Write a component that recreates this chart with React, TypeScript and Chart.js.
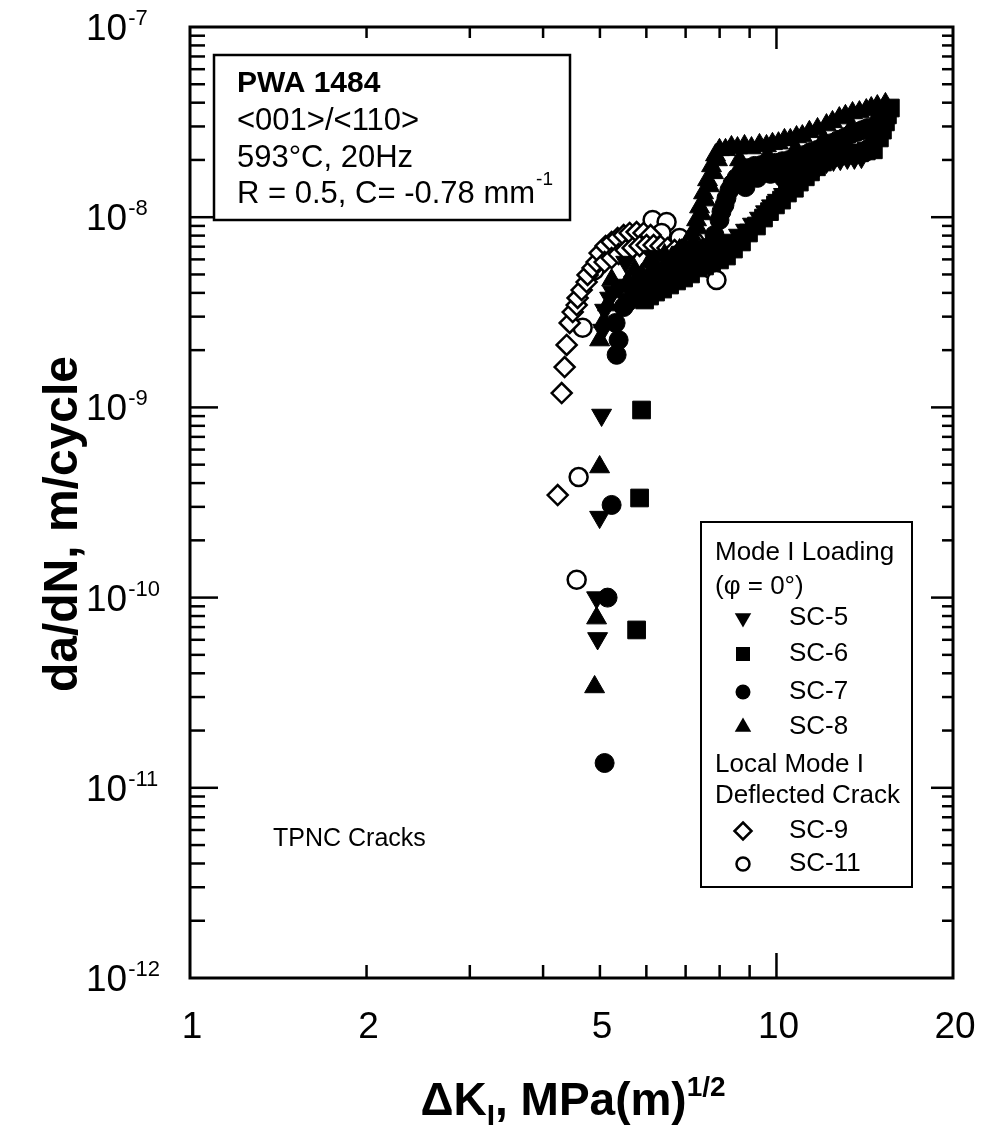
import React, { useEffect, useRef } from 'react';
import { Chart, registerables } from 'chart.js';

Chart.register(...registerables);

const FONT = '"Liberation Sans", Arial, Helvetica, sans-serif';

// ---- data (ΔK in MPa·m^1/2, da/dN in m/cycle) ----
const sc5X = [4.955, 4.935, 4.994, 5.033, 5.053, 5.093, 5.194, 5.402, 5.707, 6.029, 6.370, 6.730, 7.109, 7.510, 7.933, 8.380, 8.856, 9.355, 9.806, 10.28, 10.77, 11.29, 11.84, 12.51, 13.21, 13.96, 5.532, 6.173, 6.890,
  7.307, 7.720, 8.154, 8.616, 9.101, 9.579, 10.04, 10.52, 11.03, 11.56, 12.17, 12.85, 13.58, 5.255, 5.553, 5.866, 6.197, 6.546, 6.917];
const sc5Y = [6.1e-11, 1.0e-10, 2.65e-10, 9.12e-10, 2.55e-9, 3.25e-9, 3.76e-9, 4.24e-9, 4.56e-9, 4.97e-9, 5.41e-9, 5.81e-9, 6.10e-9, 6.56e-9, 7.06e-9, 7.59e-9, 8.56e-9, 9.90e-9, 1.15e-8, 1.32e-8, 1.53e-8, 1.73e-8, 1.88e-8, 2.00e-8, 2.05e-8, 2.07e-8, 5.81e-9, 6.25e-9, 6.56e-9,
  6.33e-9, 6.89e-9, 7.32e-9, 8.06e-9, 9.21e-9, 1.07e-8, 1.23e-8, 1.42e-8, 1.63e-8, 1.81e-8, 1.95e-8, 2.02e-8, 2.05e-8, 4.04e-9, 4.40e-9, 4.73e-9, 5.15e-9, 5.61e-9, 5.96e-9];

const sc6X = [5.775, 5.843, 5.888, 5.958, 6.221, 6.573, 6.944, 7.336, 7.750, 8.218, 8.717, 9.245, 9.730, 10.20, 10.73, 11.20, 11.70, 12.26, 13.06, 13.85, 14.63, 14.98, 15.34, 15.64,
  6.076, 6.395, 6.755, 7.137, 7.540, 7.996, 8.447, 8.960, 9.504, 9.961, 10.44, 10.94, 11.43, 11.98, 12.66, 13.42, 14.23, 15.16, 15.46];
const sc6Y = [6.76e-11, 3.34e-10, 9.69e-10, 3.67e-9, 4.04e-9, 4.40e-9, 4.79e-9, 5.41e-9, 5.81e-9, 6.25e-9, 7.41e-9, 8.99e-9, 1.07e-8, 1.23e-8, 1.42e-8, 1.63e-8, 1.84e-8, 2.05e-8, 2.12e-8, 2.18e-8, 2.26e-8, 2.61e-8, 3.17e-8, 3.75e-8,
  3.85e-9, 4.19e-9, 4.62e-9, 5.03e-9, 5.54e-9, 5.96e-9, 6.80e-9, 8.26e-9, 9.90e-9, 1.16e-8, 1.34e-8, 1.53e-8, 1.73e-8, 1.95e-8, 2.10e-8, 2.15e-8, 2.23e-8, 2.87e-8, 3.45e-8];

const sc7X = [5.093, 5.153, 5.235, 5.339, 5.381, 5.318, 5.489, 5.752, 6.076, 6.420, 6.782, 7.165, 7.569, 7.841, 7.996, 8.154, 8.315, 8.549, 8.925, 9.428, 9.961, 10.52, 11.12, 11.75, 12.41, 13.11, 13.74, 14.29, 14.18,
  8.059, 8.218, 8.414, 8.717, 9.173, 9.692, 10.24, 10.82, 11.43, 12.07, 12.75, 13.42, 14.01, 14.75, 14.40, 5.912, 6.245, 6.599, 6.971, 7.365, 5.575,
  8.856, 9.281, 9.767, 10.28, 10.82, 11.47];
const sc7Y = [1.35e-11, 1.0e-10, 3.07e-10, 1.89e-9, 2.26e-9, 2.78e-9, 3.37e-9, 3.85e-9, 4.35e-9, 4.91e-9, 5.54e-9, 6.10e-9, 6.89e-9, 8.06e-9, 9.67e-9, 1.16e-8, 1.39e-8, 1.61e-8, 1.81e-8, 1.88e-8, 1.93e-8, 2.00e-8, 2.12e-8, 2.26e-8, 2.45e-8, 2.64e-8, 2.81e-8, 2.94e-8, 2.20e-8,
  1.07e-8, 1.26e-8, 1.50e-8, 1.73e-8, 1.86e-8, 1.91e-8, 1.97e-8, 2.07e-8, 2.20e-8, 2.37e-8, 2.55e-8, 2.74e-8, 2.87e-8, 2.55e-8, 2.31e-8, 4.09e-9, 4.62e-9, 5.21e-9, 5.81e-9, 6.48e-9, 3.58e-9,
  1.44e-8, 1.61e-8, 1.69e-8, 1.61e-8, 1.77e-8, 1.88e-8];

const sc8X = [4.897, 4.935, 4.994, 4.994, 5.073, 5.153, 5.297, 5.575, 5.888, 6.245, 6.625, 6.971, 7.165, 7.307, 7.394, 7.510, 7.629, 7.750, 7.872, 7.996, 8.380, 8.821, 9.355, 9.844, 10.32, 10.82, 11.38, 12.17, 12.80, 13.48, 14.23, 14.86, 15.34, 8.650, 9.654, 10.77, 12.03, 13.42, 14.75,
  8.187, 8.582, 9.066, 9.616, 10.08, 10.56, 11.07, 11.75, 12.46, 13.11, 13.85, 14.51, 7.222, 7.336, 7.451, 7.569, 7.689, 7.810, 7.933, 5.235, 5.730, 6.076, 6.445, 6.836];
const sc8Y = [3.39e-11, 7.8e-11, 4.86e-10, 2.26e-9, 2.81e-9, 3.45e-9, 4.04e-9, 4.56e-9, 4.97e-9, 5.41e-9, 6.10e-9, 6.89e-9, 8.06e-9, 9.67e-9, 1.13e-8, 1.34e-8, 1.57e-8, 1.86e-8, 2.12e-8, 2.26e-8, 2.34e-8, 2.37e-8, 2.40e-8, 2.43e-8, 2.55e-8, 2.64e-8, 2.81e-8, 3.05e-8, 3.32e-8, 3.53e-8, 3.66e-8, 3.84e-8, 3.94e-8, 2.00e-8, 2.10e-8, 2.26e-8, 2.55e-8, 2.94e-8, 3.24e-8,
  2.26e-8, 2.31e-8, 2.31e-8, 2.37e-8, 2.45e-8, 2.55e-8, 2.67e-8, 2.91e-8, 3.17e-8, 3.41e-8, 3.57e-8, 3.75e-8, 7.23e-9, 8.77e-9, 1.04e-8, 1.23e-8, 1.46e-8, 1.71e-8, 2.00e-8, 4.67e-9, 5.28e-9, 5.81e-9, 6.33e-9, 6.72e-9];

const sc9X = [4.236, 4.303, 4.353, 4.388, 4.441, 4.493, 4.564, 4.581, 4.653, 4.745, 4.764, 4.858, 4.935, 4.994, 5.113, 5.235, 5.360, 5.489, 5.619, 5.775, 5.935, 6.100, 5.093, 5.235, 5.381, 5.532, 5.685, 5.843, 6.005, 6.173, 6.345, 6.521, 6.703, 6.890, 7.081, 7.278, 7.481, 7.689, 7.996];
const sc9Y = [3.46e-10, 1.19e-9, 1.63e-9, 2.13e-9, 2.78e-9, 3.17e-9, 3.45e-9, 3.76e-9, 4.14e-9, 4.56e-9, 4.97e-9, 5.41e-9, 5.81e-9, 6.48e-9, 7.06e-9, 7.41e-9, 7.77e-9, 8.06e-9, 8.26e-9, 8.36e-9, 8.26e-9, 8.06e-9, 5.81e-9, 6.10e-9, 6.40e-9, 6.72e-9, 6.89e-9, 7.06e-9, 7.14e-9, 7.14e-9, 7.06e-9, 6.89e-9, 6.72e-9, 6.72e-9, 6.56e-9, 6.40e-9, 6.25e-9, 6.10e-9, 6.72e-9];

const sc11X = [4.564, 4.599, 4.672, 4.897, 5.255, 5.532, 5.843, 6.149, 6.496, 6.370, 6.836, 7.250, 7.540, 7.689, 7.902];
const sc11Y = [1.24e-10, 4.30e-10, 2.62e-9, 5.28e-9, 6.72e-9, 7.32e-9, 7.77e-9, 9.67e-9, 9.44e-9, 8.26e-9, 7.77e-9, 7.41e-9, 6.72e-9, 5.41e-9, 4.67e-9];

const xTickValues = [1, 2, 5, 10, 20];
const xTickLabels = ['1', '2', '5', '10', '20'];
const yTickExponents = [-7, -8, -9, -10, -11, -12];

const annotationTitle = 'PWA 1484';
const annotationLines = ['<001>/<110>', '593°C, 20Hz'];
const annotationLast = 'R = 0.5, C= -0.78 mm';
const annotationLastSup = '-1';

const legendHeader1 = ['Mode I Loading', '(φ = 0°)'];
const legendHeader2 = ['Local Mode I', 'Deflected Crack'];
const seriesNames = ['SC-5', 'SC-6', 'SC-7', 'SC-8', 'SC-9', 'SC-11'];
const noteText = 'TPNC Cracks';

function toPoints(xs: number[], ys: number[]) {
  return xs.map((x, i) => ({ x, y: ys[i] }));
}

function drawMarker(ctx: CanvasRenderingContext2D, kind: string, x: number, y: number, filled: boolean) {
  ctx.beginPath();
  if (kind === 'tri' || kind === 'triDown') {
    const r = 9.5;
    const s = kind === 'tri' ? 1 : -1;
    ctx.moveTo(x, y - s * r);
    ctx.lineTo(x + r * 0.866, y + s * r * 0.5);
    ctx.lineTo(x - r * 0.866, y + s * r * 0.5);
    ctx.closePath();
  } else if (kind === 'rect') {
    ctx.rect(x - 7, y - 7, 14, 14);
  } else if (kind === 'circle') {
    ctx.arc(x, y, filled ? 7.5 : 6.5, 0, Math.PI * 2);
  } else if (kind === 'diamond') {
    const r = 8.5;
    ctx.moveTo(x, y - r);
    ctx.lineTo(x + r, y);
    ctx.lineTo(x, y + r);
    ctx.lineTo(x - r, y);
    ctx.closePath();
  }
  if (filled) {
    ctx.fillStyle = '#000';
    ctx.fill();
  } else {
    ctx.fillStyle = '#fff';
    ctx.fill();
    ctx.lineWidth = 2.5;
    ctx.strokeStyle = '#000';
    ctx.stroke();
  }
}

const overlay = {
  id: 'overlay',
  afterDraw(chart: any) {
    const ctx: CanvasRenderingContext2D = chart.ctx;
    const xs = chart.scales.x;
    const ys = chart.scales.y;
    const { left, right, top, bottom } = chart.chartArea;
    const line = (x1: number, y1: number, x2: number, y2: number) => {
      ctx.beginPath();
      ctx.moveTo(x1, y1);
      ctx.lineTo(x2, y2);
      ctx.stroke();
    };
    ctx.save();
    ctx.strokeStyle = '#000';
    ctx.fillStyle = '#000';

    // frame
    ctx.lineWidth = 3;
    ctx.strokeRect(left, top, right - left, bottom - top);

    // y ticks (inward on both sides)
    ctx.lineWidth = 2.5;
    for (let e = -12; e <= -8; e++) {
      for (let m = 1; m <= 9; m++) {
        if (m === 1 && e === -12) continue;
        const py = ys.getPixelForValue(m * Math.pow(10, e));
        const major = m === 1;
        line(left, py, left + (major ? 28 : 15), py);
        line(right, py, right - (major ? 22 : 11), py);
      }
    }
    // x ticks
    for (let m = 2; m <= 10; m++) {
      const px = xs.getPixelForValue(m);
      const major = m === 10;
      line(px, bottom, px, bottom - (major ? 25 : 13));
      line(px, top, px, top + (major ? 22 : 11));
    }

    // y tick labels
    ctx.textAlign = 'left';
    ctx.textBaseline = 'alphabetic';
    yTickExponents.forEach((exp) => {
      const py = ys.getPixelForValue(Math.pow(10, exp));
      ctx.font = `37px ${FONT}`;
      ctx.fillText('10', 86, py + 13);
      const w = ctx.measureText('10').width;
      ctx.font = `22px ${FONT}`;
      ctx.fillText(String(exp), 86 + w + 1, py - 2);
    });

    // x tick labels
    ctx.textAlign = 'center';
    ctx.font = `37px ${FONT}`;
    xTickValues.forEach((v, i) => {
      const px = xs.getPixelForValue(v);
      ctx.fillText(xTickLabels[i], px + 2, 1038);
    });

    // y title
    ctx.save();
    ctx.translate(77, 524);
    ctx.rotate(-Math.PI / 2);
    ctx.font = `bold 48px ${FONT}`;
    ctx.textAlign = 'center';
    ctx.textBaseline = 'alphabetic';
    ctx.fillText('da/dN, m/cycle', 0, 0);
    ctx.restore();

    // x title: ΔK_I, MPa(m)^1/2
    {
      const parts = [
        { t: 'ΔK', f: `bold 46px ${FONT}`, dy: 0 },
        { t: 'I', f: `bold 30px ${FONT}`, dy: 10 },
        { t: ', MPa(m)', f: `bold 46px ${FONT}`, dy: 0 },
        { t: '1/2', f: `bold 28px ${FONT}`, dy: -19 },
      ];
      let total = 0;
      parts.forEach((p) => {
        ctx.font = p.f;
        total += ctx.measureText(p.t).width;
      });
      let x = 573 - total / 2;
      ctx.textAlign = 'left';
      parts.forEach((p) => {
        ctx.font = p.f;
        ctx.fillText(p.t, x, 1115 + p.dy);
        x += ctx.measureText(p.t).width;
      });
    }

    // annotation box
    ctx.fillStyle = '#fff';
    ctx.fillRect(214, 55, 356, 165);
    ctx.fillStyle = '#000';
    ctx.lineWidth = 2.5;
    ctx.strokeRect(214, 55, 356, 165);
    ctx.textAlign = 'left';
    ctx.textBaseline = 'middle';
    ctx.font = `bold 30px ${FONT}`;
    ctx.fillText(annotationTitle, 237, 84);
    ctx.font = `31px ${FONT}`;
    ctx.fillText(annotationLines[0], 237, 121);
    ctx.fillText(annotationLines[1], 237, 158);
    ctx.fillText(annotationLast, 237, 194);
    const lw = ctx.measureText(annotationLast).width;
    ctx.font = `19px ${FONT}`;
    ctx.fillText(annotationLastSup, 237 + lw + 1, 180);

    // legend box
    ctx.fillStyle = '#fff';
    ctx.fillRect(701, 522, 211, 365);
    ctx.fillStyle = '#000';
    ctx.lineWidth = 2;
    ctx.strokeRect(701, 522, 211, 365);
    ctx.font = `26px ${FONT}`;
    ctx.textBaseline = 'middle';
    ctx.fillText(legendHeader1[0], 715, 553);
    ctx.fillText(legendHeader1[1], 715, 587);
    ctx.fillText(legendHeader2[0], 715, 765);
    ctx.fillText(legendHeader2[1], 715, 796);
    const rows = [
      { kind: 'triDown', filled: true, y: 618 },
      { kind: 'rect', filled: true, y: 654 },
      { kind: 'circle', filled: true, y: 692 },
      { kind: 'tri', filled: true, y: 727 },
      { kind: 'diamond', filled: false, y: 831 },
      { kind: 'circle', filled: false, y: 864 },
    ];
    rows.forEach((r, i) => {
      drawMarker(ctx, r.kind, 743, r.y, r.filled);
      ctx.fillStyle = '#000';
      ctx.font = `26px ${FONT}`;
      ctx.fillText(seriesNames[i], 789, r.y);
    });

    // note
    ctx.font = `25px ${FONT}`;
    ctx.fillText(noteText, 273, 839);

    ctx.restore();
  },
};

export default function App() {
  const ref = useRef<HTMLCanvasElement>(null);
  useEffect(() => {
    const canvas = ref.current;
    if (!canvas) return;
    const filled = (label: string, xs: number[], ys: number[], style: string, radius: number, rotation = 0) => ({
      label,
      data: toPoints(xs, ys),
      pointStyle: style,
      pointRadius: radius,
      pointRotation: rotation,
      backgroundColor: '#000',
      borderColor: '#000',
      borderWidth: 1,
      showLine: false,
      order: 1,
    });
    const open = (label: string, xs: number[], ys: number[], style: string, radius: number) => ({
      label,
      data: toPoints(xs, ys),
      pointStyle: style,
      pointRadius: radius,
      backgroundColor: '#fff',
      borderColor: '#000',
      borderWidth: 2.5,
      showLine: false,
      order: 2,
    });
    const chart = new Chart(canvas, {
      type: 'scatter',
      data: {
        datasets: [
          filled(seriesNames[0], sc5X, sc5Y, 'triangle', 11.5, 180),
          filled(seriesNames[1], sc6X, sc6Y, 'rect', 12.5),
          filled(seriesNames[2], sc7X, sc7Y, 'circle', 9.5),
          filled(seriesNames[3], sc8X, sc8Y, 'triangle', 11.5),
          open(seriesNames[4], sc9X, sc9Y, 'rectRot', 10),
          open(seriesNames[5], sc11X, sc11Y, 'circle', 9),
        ] as any,
      },
      options: {
        animation: false,
        responsive: false,
        devicePixelRatio: 1,
        events: [],
        layout: { padding: { top: 27, right: 36, left: 0, bottom: 0 } },
        plugins: { legend: { display: false }, tooltip: { enabled: false } },
        scales: {
          x: {
            type: 'logarithmic',
            min: 1,
            max: 20,
            ticks: { display: false },
            grid: { display: false },
            border: { display: false },
            afterFit: (s: any) => { s.height = 163; },
          },
          y: {
            type: 'logarithmic',
            min: 1e-12,
            max: 1e-7,
            ticks: { display: false },
            grid: { display: false },
            border: { display: false },
            afterFit: (s: any) => { s.width = 190; },
          },
        },
      } as any,
      plugins: [overlay],
    });
    return () => chart.destroy();
  }, []);
  return (
    <div style={{ position: 'fixed', left: 0, top: 0, width: 989, height: 1141, background: '#fff' }}>
      <canvas ref={ref} width={989} height={1141} style={{ display: 'block', width: 989, height: 1141 }} />
    </div>
  );
}
